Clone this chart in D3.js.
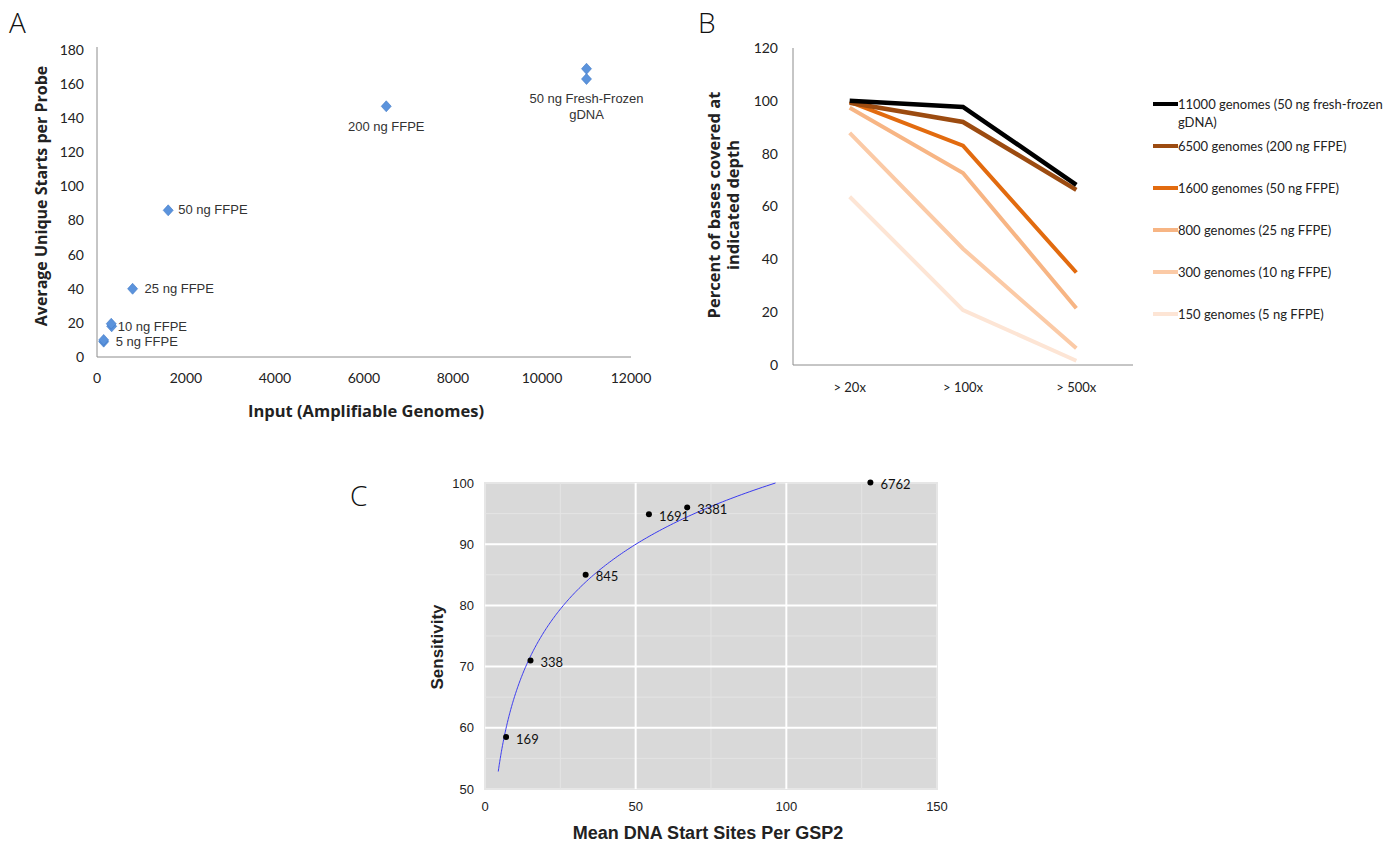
<!DOCTYPE html>
<meta charset="utf-8">
<script src="https://d3js.org/d3.v7.min.js"></script>
<style>
  body { margin: 0; background: #fff; }
  text { fill: #222; }
</style>
<svg id="fig" width="1393" height="846"></svg>
<script>

// ---- Panel A: input vs unique starts
var aLabels = ["5 ng FFPE", "5 ng FFPE", "10 ng FFPE", "10 ng FFPE", "25 ng FFPE", "50 ng FFPE", "200 ng FFPE", "50 ng Fresh-Frozen", "50 ng Fresh-Frozen"];
var aInput  = [150, 150, 330, 320, 800, 1600, 6500, 11000, 11000];
var aStarts = [9, 10, 18, 19.5, 40, 86, 147, 169, 163];
var aTicksX = [0, 2000, 4000, 6000, 8000, 10000, 12000];
var aTicksY = [0, 20, 40, 60, 80, 100, 120, 140, 160, 180];

// ---- Panel B: percent covered at depth
var bDepths = ["> 20x", "> 100x", "> 500x"];
var bSeries = [
  "11000 genomes (50 ng fresh-frozen gDNA)",
  "6500 genomes (200 ng FFPE)",
  "1600 genomes (50 ng FFPE)",
  "800 genomes (25 ng FFPE)",
  "300 genomes (10 ng FFPE)",
  "150 genomes (5 ng FFPE)"
];
var bValues = [
  [100, 97.7, 68.2],
  [99.3, 92, 66.3],
  [99.6, 83, 35],
  [97.4, 72.7, 21.5],
  [87.9, 44, 6.3],
  [63.7, 20.8, 1.6]
];
var bColors = ["#000000", "#9c4b10", "#e26b0f", "#f7b584", "#fbcaa6", "#fde5d5"];
var bTicksY = [0, 20, 40, 60, 80, 100, 120];

// ---- Panel C: sensitivity vs mean start sites
var cLabels = ["169", "338", "845", "1691", "3381", "6762"];
var cStarts = [7.0, 15.1, 33.4, 54.4, 67.1, 127.9];
var cSens   = [58.5, 71.0, 85.0, 94.9, 96.0, 100.1];
var cTicksX = [0, 50, 100, 150];
var cTicksY = [50, 60, 70, 80, 90, 100];

var svg = d3.select("#fig");
var calibri = "Lato, 'Open Sans', sans-serif";
var arial = "'Liberation Sans', Arial, sans-serif";

function panelLetter(x, y, t) {
  svg.append("text").attr("x", x).attr("y", y).text(t)
    .style("font-family", "'Open Sans', sans-serif").style("font-weight", 300)
    .style("font-size", "28px").style("fill", "#111");
}

// ================= A =================
(function() {
  var x = d3.scaleLinear().domain([0, 12000]).range([97, 631]);
  var y = d3.scaleLinear().domain([0, 180]).range([357, 50]);
  var g = svg.append("g");

  g.append("line").attr("x1", x(0)).attr("x2", x(0)).attr("y1", y(180) - 3).attr("y2", y(0)).attr("stroke", "#8c8c8c");
  g.append("line").attr("x1", x(0)).attr("x2", x(12000)).attr("y1", y(0)).attr("y2", y(0)).attr("stroke", "#8c8c8c");

  g.selectAll(".yt").data(aTicksY).enter().append("text")
    .attr("x", 84).attr("y", function(d) { return y(d); }).attr("dy", "0.35em")
    .attr("text-anchor", "end").text(function(d) { return d; })
    .style("font-family", calibri).style("font-size", "14px");
  g.selectAll(".xt").data(aTicksX).enter().append("text")
    .attr("x", function(d) { return x(d); }).attr("y", 383)
    .attr("text-anchor", "middle").text(function(d) { return d; })
    .style("font-family", calibri).style("font-size", "14px");

  g.append("text").attr("x", 366).attr("y", 417).attr("text-anchor", "middle")
    .text("Input (Amplifiable Genomes)")
    .style("font-family", "'Open Sans', sans-serif").style("font-weight", 700).style("font-size", "16.5px");
  g.append("text").attr("transform", "translate(47,196) rotate(-90)").attr("text-anchor", "middle")
    .text("Average Unique Starts per Probe")
    .style("font-family", "'Open Sans', sans-serif").style("font-weight", 700).style("font-size", "16px");

  var pts = aInput.map(function(d, i) { return { x: d, y: aStarts[i], label: aLabels[i] }; });
  g.selectAll(".pt").data(pts).enter().append("path")
    .attr("d", "M0,-5.5 L5,0 L0,5.5 L-5,0 Z")
    .attr("transform", function(d) { return "translate(" + x(d.x) + "," + y(d.y) + ")"; })
    .attr("fill", "#5b93dc").attr("stroke", "#3f78c6").attr("stroke-width", 0.6);

  // labels
  var lab = [
    { i: 0, dx: 12, dy: 4, anchor: "start" },
    { i: 2, dx: 6, dy: 5, anchor: "start" },
    { i: 4, dx: 12, dy: 4, anchor: "start" },
    { i: 5, dx: 10, dy: 4, anchor: "start" },
    { i: 6, dx: 0, dy: 25, anchor: "middle" },
    { i: 8, dx: 0, dy: 24, anchor: "middle" }
  ];
  lab.forEach(function(l) {
    var p = pts[l.i];
    g.append("text").attr("x", x(p.x) + l.dx).attr("y", y(p.y) + l.dy)
      .attr("text-anchor", l.anchor).text(p.label)
      .style("font-family", arial).style("font-size", "13px").style("fill", "#333");
  });
  g.append("text").attr("x", x(11000)).attr("y", y(163) + 40).attr("text-anchor", "middle").text("gDNA")
    .style("font-family", arial).style("font-size", "13px").style("fill", "#333");

  panelLetter(9, 33, "A");
})();

// ================= B =================
(function() {
  var x = d3.scalePoint().domain(bDepths).range([793, 1133]).padding(0.5);
  var y = d3.scaleLinear().domain([0, 120]).range([365, 48]);
  var g = svg.append("g");

  g.append("line").attr("x1", 793).attr("x2", 793).attr("y1", y(120)).attr("y2", y(0)).attr("stroke", "#8c8c8c");
  g.append("line").attr("x1", 793).attr("x2", 1133).attr("y1", y(0)).attr("y2", y(0)).attr("stroke", "#8c8c8c");

  g.selectAll(".yt").data(bTicksY).enter().append("text")
    .attr("x", 778).attr("y", function(d) { return y(d); }).attr("dy", "0.35em")
    .attr("text-anchor", "end").text(function(d) { return d; })
    .style("font-family", calibri).style("font-size", "14px");
  g.selectAll(".xt").data(bDepths).enter().append("text")
    .attr("x", function(d) { return x(d); }).attr("y", 392)
    .attr("text-anchor", "middle").text(function(d) { return d; })
    .style("font-family", calibri).style("font-size", "13px");

  var yt = g.append("text").attr("transform", "translate(720,205) rotate(-90)").attr("text-anchor", "middle")
    .style("font-family", "'Open Sans', sans-serif").style("font-weight", 700).style("font-size", "16.5px");
  yt.append("tspan").attr("x", 0).attr("dy", 0).text("Percent of bases covered at");
  yt.append("tspan").attr("x", 0).attr("dy", 19).text("indicated depth");

  var line = d3.line().x(function(d, i) { return x(bDepths[i]); }).y(function(d) { return y(d); });
  // draw lightest first so darker ones sit on top
  for (var s = bSeries.length - 1; s >= 0; s--) {
    g.append("path").attr("d", line(bValues[s])).attr("fill", "none")
      .attr("stroke", bColors[s]).attr("stroke-width", s < 2 ? 4.5 : 4).attr("stroke-linejoin", "miter");
  }

  // legend
  bSeries.forEach(function(name, i) {
    var ly = 104 + i * 42;
    g.append("line").attr("x1", 1153).attr("x2", 1178).attr("y1", ly).attr("y2", ly)
      .attr("stroke", bColors[i]).attr("stroke-width", 4);
    var t = g.append("text").attr("x", 1178).attr("y", ly).attr("dy", "0.35em")
      .style("font-family", calibri).style("font-size", "13px");
    if (i === 0) {
      t.append("tspan").attr("x", 1178).text("11000 genomes (50 ng fresh-frozen");
      t.append("tspan").attr("x", 1178).attr("dy", 18).text("gDNA)");
    } else {
      t.text(name);
    }
  });

  panelLetter(698, 33, "B");
})();

// ================= C =================
(function() {
  var x = d3.scaleLinear().domain([0, 150]).range([485, 937]);
  var y = d3.scaleLinear().domain([50, 100]).range([789, 483]);
  var g = svg.append("g");

  g.append("rect").attr("x", x(0)).attr("y", y(100)).attr("width", x(150) - x(0)).attr("height", y(50) - y(100))
    .attr("fill", "#d9d9d9").attr("stroke", "#e6e6e6").attr("stroke-width", 2);

  // minor grid
  [25, 75, 125].forEach(function(v) {
    g.append("line").attr("x1", x(v)).attr("x2", x(v)).attr("y1", y(100)).attr("y2", y(50)).attr("stroke", "#e4e4e4").attr("stroke-width", 1);
  });
  [55, 65, 75, 85, 95].forEach(function(v) {
    g.append("line").attr("x1", x(0)).attr("x2", x(150)).attr("y1", y(v)).attr("y2", y(v)).attr("stroke", "#e4e4e4").attr("stroke-width", 1);
  });
  // major grid
  [50, 100].forEach(function(v) {
    g.append("line").attr("x1", x(v)).attr("x2", x(v)).attr("y1", y(100)).attr("y2", y(50)).attr("stroke", "#fff").attr("stroke-width", 2);
  });
  [60, 70, 80, 90].forEach(function(v) {
    g.append("line").attr("x1", x(0)).attr("x2", x(150)).attr("y1", y(v)).attr("y2", y(v)).attr("stroke", "#fff").attr("stroke-width", 2);
  });

  g.selectAll(".yt").data(cTicksY).enter().append("text")
    .attr("x", 474).attr("y", function(d) { return y(d); }).attr("dy", "0.35em")
    .attr("text-anchor", "end").text(function(d) { return d; })
    .style("font-family", arial).style("font-size", "13px");
  g.selectAll(".xt").data(cTicksX).enter().append("text")
    .attr("x", function(d) { return x(d); }).attr("y", 811)
    .attr("text-anchor", "middle").text(function(d) { return d; })
    .style("font-family", arial).style("font-size", "13px");

  g.append("text").attr("x", 708).attr("y", 839).attr("text-anchor", "middle")
    .text("Mean DNA Start Sites Per GSP2")
    .style("font-family", arial).style("font-weight", 700).style("font-size", "18px");
  g.append("text").attr("transform", "translate(443,647) rotate(-90)").attr("text-anchor", "middle")
    .text("Sensitivity")
    .style("font-family", arial).style("font-weight", 700).style("font-size", "17px");

  // logarithmic trendline fitted from the points (least squares on ln x)
  var lx = cStarts.map(Math.log);
  var mx = d3.mean(lx), my = d3.mean(cSens);
  var b = d3.sum(lx, function(v, i) { return (v - mx) * (cSens[i] - my); }) / d3.sum(lx, function(v) { return (v - mx) * (v - mx); });
  var a = my - b * mx;
  var xEnd = Math.exp((100 - a) / b);
  var curve = d3.range(0, 201).map(function(k) {
    var xv = 4.4 * Math.pow(xEnd / 4.4, k / 200);
    return [xv, a + b * Math.log(xv)];
  });
  g.append("path").attr("d", d3.line().x(function(d) { return x(d[0]); }).y(function(d) { return y(d[1]); })(curve))
    .attr("fill", "none").attr("stroke", "#3a3af0").attr("stroke-width", 1);

  var pts = cStarts.map(function(d, i) { return { x: d, y: cSens[i], label: cLabels[i] }; });
  g.selectAll(".pt").data(pts).enter().append("circle")
    .attr("cx", function(d) { return x(d.x); }).attr("cy", function(d) { return y(d.y); })
    .attr("r", 3).attr("fill", "#000");
  g.selectAll(".pl").data(pts).enter().append("text")
    .attr("x", function(d) { return x(d.x) + 10; }).attr("y", function(d) { return y(d.y) + 2; })
    .attr("dy", "0.35em").text(function(d) { return d.label; })
    .style("font-family", calibri).style("font-size", "13px").style("fill", "#111");

  panelLetter(350, 506, "C");
})();

</script>
